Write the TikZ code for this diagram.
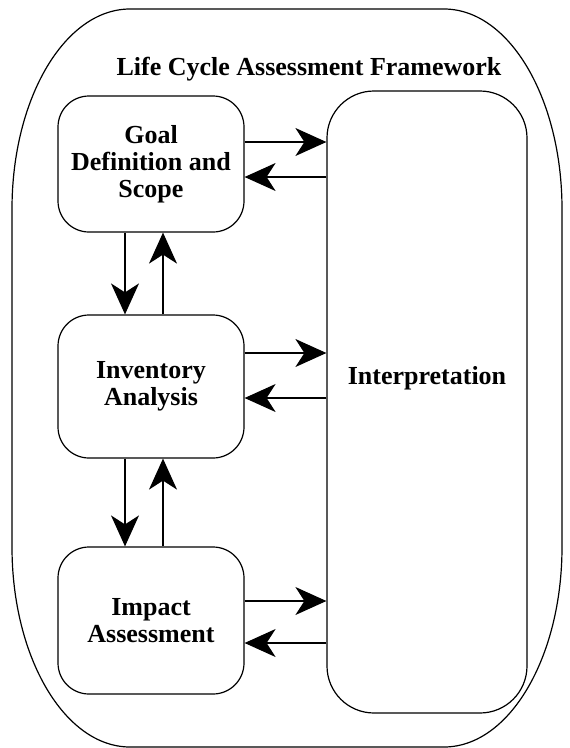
\documentclass[tikz,border=0pt]{standalone}
\usepackage{fontspec}
\setmainfont{Liberation Serif}
\usepackage{tikz}
\usetikzlibrary{arrows.meta}
\tikzstyle{stage}=[draw, line width=1.2pt, rounded corners=31pt, minimum width=186pt, inner sep=0pt, align=center]
\tikzstyle{interp box}=[stage, rounded corners=47pt, minimum width=200pt, minimum height=622pt]
\tikzstyle{flow}=[-{Stealth[length=31pt,width=28pt,inset=9pt]}, line width=1.2pt]
\tikzstyle{frame}=[line width=1.2pt]

\begin{document}
\begin{tikzpicture}[x=1pt, y=-1pt, font=\fontsize{26}{27}\selectfont\bfseries]
		\useasboundingbox (0,0) rectangle (570,748);

		% Outer frame
		\draw[frame] (130,9) -- (444,9) .. controls (509.2,9) and (562,98.5) .. (562,209)
			-- (562,547) .. controls (562,657.5) and (509.2,747) .. (444,747)
			-- (130,747) .. controls (64.8,747) and (12,657.5) .. (12,547)
			-- (12,209) .. controls (12,98.5) and (64.8,9) .. cycle;
		\node (title) at (309,69) {Life Cycle Assessment Framework};

		% Draw the stages
		\node[stage, minimum height=136pt] (goal) at (151,164) {Goal\\Definition and\\Scope};
		\node[stage, minimum height=143pt] (inv) at (151,386.5) {Inventory\\Analysis};
		\node[stage, minimum height=147pt] (imp) at (151,620.5) {Impact\\Assessment};
		\node[interp box, label={[name=interp-text, yshift=24pt]center:Interpretation}] (interp) at (427,402) {};

		% Arrows between the stages
		\draw[flow] ([xshift=-26pt]goal.south) -- ([xshift=-26pt]inv.north);
		\draw[flow] ([xshift=12pt]inv.north) -- ([xshift=12pt]goal.south);
		\draw[flow] ([xshift=-26pt]inv.south) -- ([xshift=-26pt]imp.north);
		\draw[flow] ([xshift=12pt]imp.north) -- ([xshift=12pt]inv.south);

		% Arrows to and from interpretation
		\foreach \name / \up / \down in {goal/22/-13, inv/33.5/-11.5, imp/19.5/-22.5}
		{
		\draw[flow] ([yshift=\up pt]\name.east) -- ([yshift=\up pt]\name.east -| interp.west);
		\draw[flow] ([yshift=\down pt]\name.east -| interp.west) -- ([yshift=\down pt]\name.east);
		}
	\end{tikzpicture}
\end{document}
